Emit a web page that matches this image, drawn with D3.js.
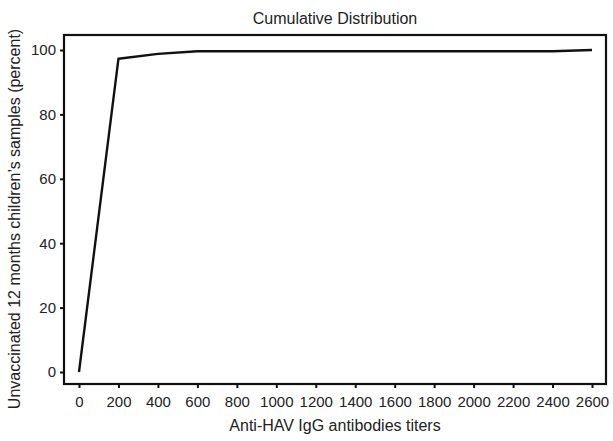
<!DOCTYPE html>
<html>
<head>
<meta charset="utf-8">
<script src="https://cdn.jsdelivr.net/npm/d3@7"></script>
<style>
  body { margin: 0; background: #fff; }
  text { font-family: "Liberation Sans", Arial, sans-serif; fill: #222; }
</style>
</head>
<body>
<div id="chart"></div>
<script>
var titers = [0, 200, 400, 600, 800, 1000, 1200, 1400, 1600, 1800, 2000, 2200, 2400, 2600]
var percent = [0, 97.3, 98.8, 99.6, 99.6, 99.6, 99.6, 99.6, 99.6, 99.6, 99.6, 99.6, 99.6, 100]
var xTicks = [0, 200, 400, 600, 800, 1000, 1200, 1400, 1600, 1800, 2000, 2200, 2400, 2600]
var yTicks = [0, 20, 40, 60, 80, 100]

var svg = d3.select('#chart').append('svg')
  .attr('width', 613)
  .attr('height', 441)

var x = d3.scaleLinear().domain([0, 2600]).range([79, 592])
var y = d3.scaleLinear().domain([0, 100]).range([372, 50])

// frame
svg.append('rect')
  .attr('x', 64).attr('y', 35)
  .attr('width', 542).attr('height', 349)
  .attr('fill', 'none')
  .attr('stroke', '#111')
  .attr('stroke-width', 2.2)

var xAxis = svg.append('g')
  .attr('transform', 'translate(0,384)')
  .call(d3.axisBottom(x).tickValues(xTicks).tickSize(4).tickPadding(8).tickFormat(d3.format('d')))
xAxis.select('.domain').remove()
xAxis.selectAll('line').attr('stroke', '#111').attr('stroke-width', 2)
xAxis.selectAll('text').style('font-size', '15px').attr('fill', '#222')

var yAxis = svg.append('g')
  .attr('transform', 'translate(64,0)')
  .call(d3.axisLeft(y).tickValues(yTicks).tickSize(4).tickPadding(4))
yAxis.select('.domain').remove()
yAxis.selectAll('line').attr('stroke', '#111').attr('stroke-width', 2)
yAxis.selectAll('text').style('font-size', '15px').attr('fill', '#222')

var line = d3.line()
  .x(function(d, i) { return x(titers[i]) })
  .y(function(d) { return y(d) })

svg.append('path')
  .datum(percent)
  .attr('d', line)
  .attr('fill', 'none')
  .attr('stroke', '#111')
  .attr('stroke-width', 2.4)
  .attr('stroke-linejoin', 'round')

svg.append('text')
  .attr('x', 335).attr('y', 24)
  .attr('text-anchor', 'middle')
  .style('font-size', '16px')
  .text('Cumulative Distribution')

svg.append('text')
  .attr('x', 335).attr('y', 431)
  .attr('text-anchor', 'middle')
  .style('font-size', '16px')
  .text('Anti-HAV IgG antibodies titers')

svg.append('text')
  .attr('transform', 'translate(20,219) rotate(-90)')
  .attr('text-anchor', 'middle')
  .style('font-size', '16px')
  .text('Unvaccinated 12 months children\u2019s samples (percent)')
</script>
</body>
</html>
